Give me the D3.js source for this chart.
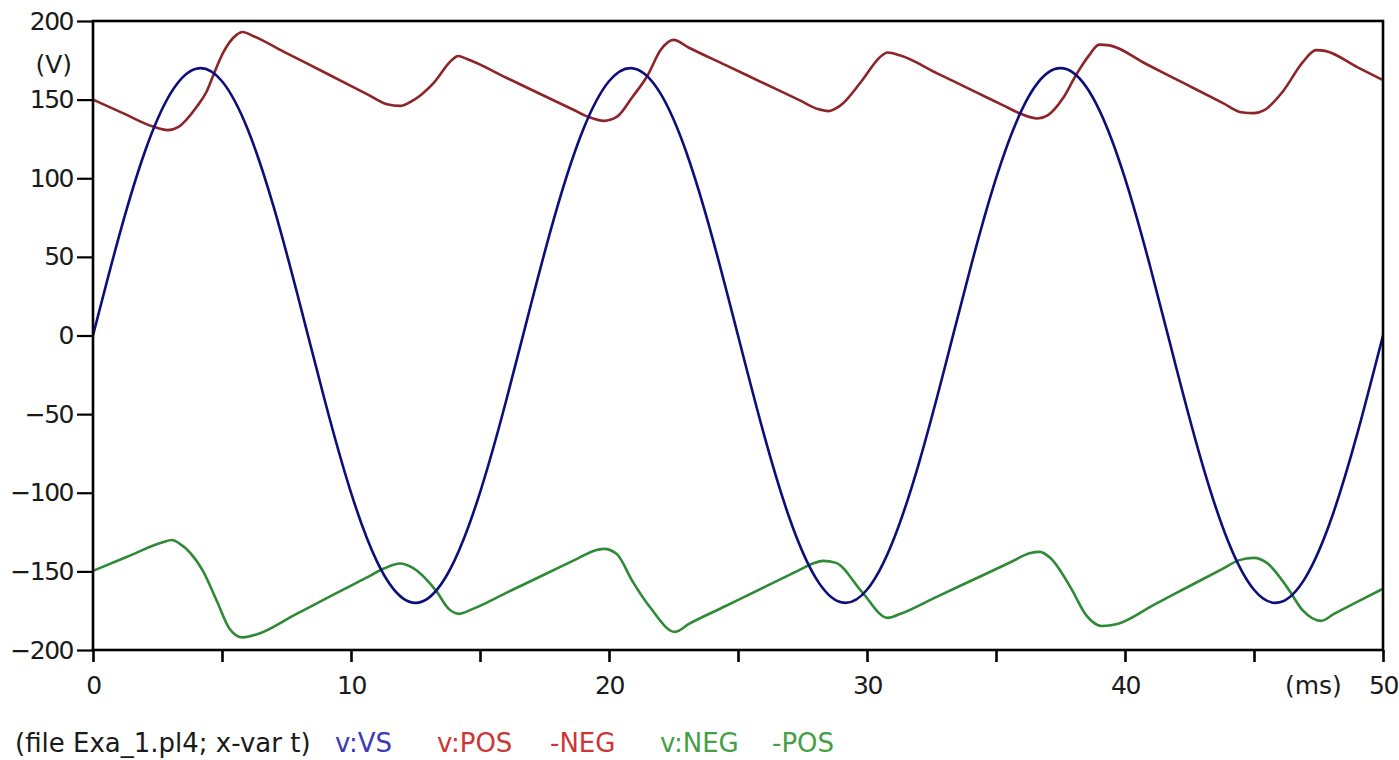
<!DOCTYPE html>
<html>
<head>
<meta charset="utf-8">
<script src="https://cdn.jsdelivr.net/npm/d3@7"></script>
<style>
	body { margin: 0; background: #fff; }
	svg { display: block; }
	.tick text { font-family: "DejaVu Sans", Verdana, sans-serif; fill: #1a1a1a; }
</style>
</head>
<body>
<div id="chart"></div>
<script>

//////////////////////
// ATP plot data  ///
//////////////////////

// v:VS, sampled every 1 ms from 0 to 50 ms (V)
var vsValues = [0, 62.6, 116.4, 153.8, 169.7, 161.7, 131.0, 81.9, 21.3, -42.3,
	-99.9, -143.5, -167.0, -167.0, -143.5, -99.9, -42.3, 21.3, 81.9, 131.0,
	161.7, 169.7, 153.8, 116.4, 62.6, 0, -62.6, -116.4, -153.8, -169.7,
	-161.7, -131.0, -81.9, -21.3, 42.3, 99.9, 143.5, 167.0, 167.0, 143.5,
	99.9, 42.3, -21.3, -81.9, -131.0, -161.7, -169.7, -153.8, -116.4, -62.6, 0];

// v:POS -NEG, [ms, V]
var posNeg = [
	[0, 150], [1.2, 141.1], [2.3, 133], [2.9, 130.6], [3.3, 132.5], [4.0, 145], [4.4, 155], [4.7, 167], [5.05, 180], [5.55, 191], [5.8, 193], [6.2, 190.5],
	[7.5, 179.6], [9.0, 167.1], [10.6, 153.7], [11.4, 147], [11.9, 146], [12.3, 148.5], [13.2, 160.5], [13.9, 175], [14.15, 177.7], [14.5, 175.8],
	[16.0, 164.1], [17.5, 152.3], [18.6, 143.7], [19.2, 139], [19.8, 136.5], [20.3, 139], [20.9, 151.5], [21.5, 165.5], [22.0, 181.5], [22.5, 188], [23.1, 183],
	[24.5, 172.1], [26.0, 160.4], [27.4, 149.5], [28.1, 144], [28.5, 142.7], [28.95, 146], [29.8, 162], [30.5, 177], [30.8, 180], [31.3, 178],
	[32.7, 166.9], [34.2, 154.9], [35.3, 146.2], [35.9, 141.4], [36.6, 138], [37.0, 140], [37.6, 151], [38.1, 165.6], [38.6, 178], [39.0, 185], [39.4, 184.5],
	[40.8, 172.8], [42.3, 160.3], [43.8, 147.8], [44.5, 142], [45.0, 141.4], [45.4, 143.3], [46.1, 154.8], [46.9, 174], [47.4, 181.5], [47.75, 181],
	[49.0, 170.7], [50, 162.4]
];

// v:NEG -POS, [ms, V]
var negPos = [
	[0, -149.7], [1.3, -140.9], [2.7, -131.5], [3.06, -130], [3.37, -132.5], [3.76, -138], [4.26, -149.7], [4.8, -168.8], [5.3, -186.6], [5.8, -192], [6.36, -190],
	[7.8, -177.8], [9.3, -165], [10.6, -154], [11.3, -148], [11.9, -145], [12.4, -147.8], [13.3, -162.4], [13.8, -174], [14.2, -177], [14.7, -174],
	[16.1, -163], [17.6, -151.2], [18.8, -141.7], [19.4, -137], [19.8, -135.7], [20.3, -138.9], [20.9, -156], [21.6, -173], [22.56, -188.5], [23.1, -183.4],
	[24.5, -172.2], [26.0, -160.2], [27.3, -149.8], [27.9, -145], [28.3, -143.3], [28.8, -144.6], [29.8, -163], [30.8, -179.6], [31.3, -177],
	[32.7, -166.2], [34.2, -154.7], [35.6, -143.9], [36.3, -138.5], [36.7, -137.6], [37.1, -141.4], [37.9, -160.5], [38.5, -178], [39.1, -184.7], [39.7, -183.4],
	[41.1, -171.4], [42.6, -158.5], [43.8, -148.2], [44.4, -143], [45.0, -141.4], [45.5, -144.6], [46.3, -160.5], [46.9, -175], [47.6, -181.5], [48.1, -177],
	[49.0, -169.4], [50, -161]
];

var yTicks = [-200, -150, -100, -50, 0, 50, 100, 150, 200];
var xTicks = [0, 5, 10, 15, 20, 25, 30, 35, 40, 45, 50];
var xLabelled = [0, 10, 20, 30, 40, 50];

var legendLabels = ["(file Exa_1.pl4; x-var t)", "v:VS", "v:POS", "-NEG", "v:NEG", "-POS"];

function plot() {
	//Width and height
	var w = 1399;
	var h = 760;
	var left = 93, top = 21, right = 1383, bottom = 650;

	var fontFamily = "'DejaVu Sans', Verdana, sans-serif";

	var svg = d3.select("#chart")
		.append("svg")
		.attr("width", w)
		.attr("height", h);

	var x = d3.scaleLinear()
		.domain([0, 50])
		.range([left, right]);

	var y = d3.scaleLinear()
		.domain([-200, 200])
		.range([bottom, top]);

	svg.append("clipPath")
		.attr("id", "plotArea")
		.append("rect")
		.attr("x", left)
		.attr("y", top)
		.attr("width", right - left)
		.attr("height", bottom - top);

	//Y axis
	var yAxis = svg.append("g")
		.attr("transform", "translate(" + left + ",0)")
		.call(d3.axisLeft(y)
			.tickValues(yTicks)
			.tickSize(16)
			.tickPadding(4));
	yAxis.select(".domain").remove();
	yAxis.selectAll(".tick line").attr("stroke", "#000").attr("stroke-width", 2.2);
	yAxis.selectAll(".tick text")
		.attr("font-size", 25)
		.attr("letter-spacing", "-1.5px");

	//X axis
	var xAxis = svg.append("g")
		.attr("transform", "translate(0," + bottom + ")")
		.call(d3.axisBottom(x)
			.tickValues(xTicks)
			.tickSize(12)
			.tickPadding(14)
			.tickFormat(function (d) { return xLabelled.indexOf(d) >= 0 ? d : ""; }));
	xAxis.select(".domain").remove();
	xAxis.selectAll(".tick line").attr("stroke", "#000").attr("stroke-width", 2.6);
	xAxis.selectAll(".tick text")
		.attr("font-size", 25)
		.attr("letter-spacing", "-1.5px");

	//Unit labels
	svg.append("text")
		.attr("x", 72)
		.attr("y", 64)
		.attr("dy", "0.35em")
		.attr("text-anchor", "end")
		.attr("font-family", fontFamily)
		.attr("font-size", 25)
		.attr("fill", "#1a1a1a")
		.text("(V)");

	svg.append("text")
		.attr("x", x(47.3))
		.attr("y", 685)
		.attr("dy", "0.35em")
		.attr("text-anchor", "middle")
		.attr("font-family", fontFamily)
		.attr("font-size", 25)
		.attr("fill", "#1a1a1a")
		.text("(ms)");

	//Curves
	var curves = svg.append("g").attr("clip-path", "url(#plotArea)");

	var vsLine = d3.line()
		.x(function (d, i) { return x(i); })
		.y(function (d) { return y(d); })
		.curve(d3.curveNatural);

	var pairLine = d3.line()
		.x(function (d) { return x(d[0]); })
		.y(function (d) { return y(d[1]); })
		.curve(d3.curveMonotoneX);

	curves.append("path")
		.datum(negPos)
		.attr("d", pairLine)
		.attr("fill", "none")
		.attr("stroke", "#2f8a38")
		.attr("stroke-width", 2.6);

	curves.append("path")
		.datum(posNeg)
		.attr("d", pairLine)
		.attr("fill", "none")
		.attr("stroke", "#8c2428")
		.attr("stroke-width", 2.6);

	curves.append("path")
		.datum(vsValues)
		.attr("d", vsLine)
		.attr("fill", "none")
		.attr("stroke", "#0e0e7a")
		.attr("stroke-width", 2.6);

	//Frame
	svg.append("rect")
		.attr("x", left)
		.attr("y", top)
		.attr("width", right - left)
		.attr("height", bottom - top)
		.attr("fill", "none")
		.attr("stroke", "#000")
		.attr("stroke-width", 2.6);

	//Legend line under the plot
	var legendColors = ["#1a1a1a", "#3a3ab8", "#cc3636", "#cc3636", "#45a045", "#45a045"];
	var legendX = [15, 335, 437, 550, 660, 772];

	svg.selectAll(".legend")
		.data(legendLabels)
		.enter()
		.append("text")
		.attr("class", "legend")
		.attr("x", function (d, i) { return legendX[i]; })
		.attr("y", 752)
		.attr("font-family", fontFamily)
		.attr("font-size", 26)
		.attr("fill", function (d, i) { return legendColors[i]; })
		.text(function (d) { return d; });
}

plot();
</script>
</body>
</html>
